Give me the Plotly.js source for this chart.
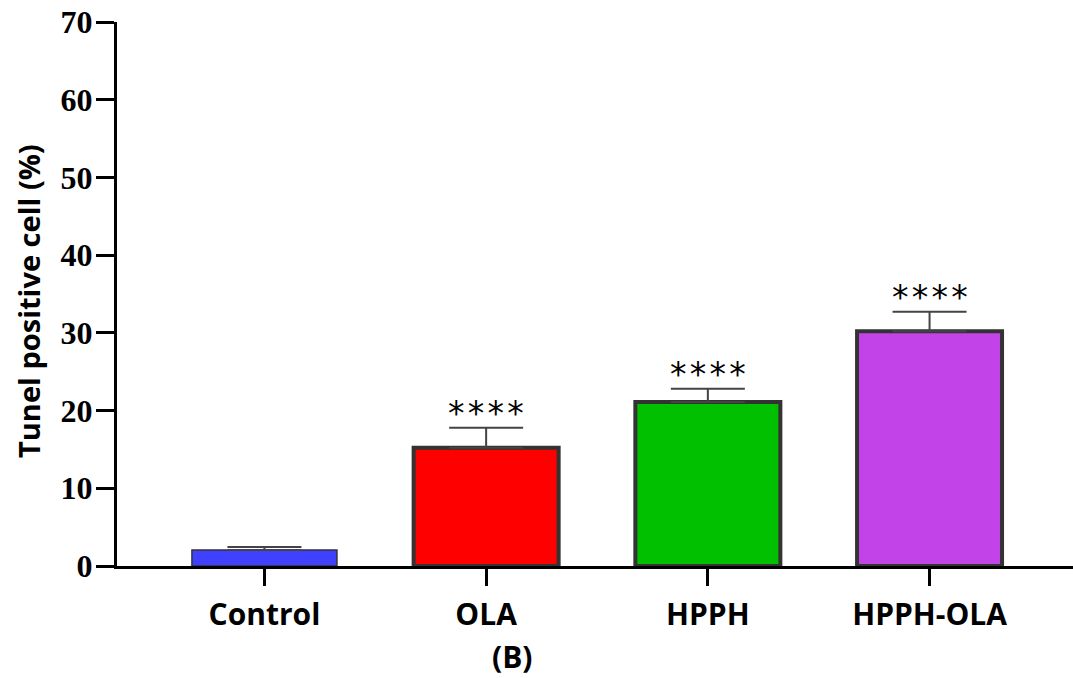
<!DOCTYPE html>
<html>
<head>
<meta charset="utf-8">
<script src="https://cdn.plot.ly/plotly-3.0.1.min.js"></script>
<style>
  html, body { margin: 0; padding: 0; background: #fff; }
  #chart { width: 1073px; height: 678px; }
</style>
</head>
<body>
<div id="chart"></div>
<script>
// TUNEL-positive cells per treatment group (mean with upper SD)
const groups = ['Control', 'OLA', 'HPPH', 'HPPH-OLA'];
const meanPct = [2.05, 15.2, 21.1, 30.2];
const sdPct = [0.4, 2.6, 1.7, 2.5];
const significance = ['', '*\u200A*\u200A*\u200A*', '*\u200A*\u200A*\u200A*', '*\u200A*\u200A*\u200A*'];
const barColors = ['#4040ff', '#ff0000', '#00c000', '#c244e8'];
const outlineWidths = [1.5, 4, 4, 4];
const yTicks = [0, 10, 20, 30, 40, 50, 60, 70];

const W = 1073, H = 678;
const margin = { l: 117, r: 0, t: 22, b: 112 };
const plotW = W - margin.l - margin.r;
const plotH = H - margin.t - margin.b;
const px2x = p => (p - margin.l) / plotW;
const py2y = p => (H - margin.b - p) / plotH;

const bars = {
  type: 'bar',
  x: groups,
  y: meanPct,
  marker: {
    color: barColors,
    line: { color: '#333333', width: outlineWidths }
  },
  error_y: {
    type: 'data',
    symmetric: false,
    array: sdPct,
    arrayminus: sdPct.map(() => 0),
    color: '#444444',
    thickness: 2,
    width: 37
  },
  hoverinfo: 'x+y'
};

const starNotes = groups.map((g, i) => ({
  x: g,
  y: meanPct[i] + sdPct[i],
  xref: 'x',
  yref: 'y',
  text: significance[i],
  showarrow: false,
  yanchor: 'bottom',
  yshift: -7,
  font: { family: 'DejaVu Sans, sans-serif', size: 33, color: '#000' }
})).filter(a => a.text);

const layout = {
  width: W,
  height: H,
  margin: margin,
  paper_bgcolor: '#ffffff',
  plot_bgcolor: '#ffffff',
  showlegend: false,
  bargap: 0.346,
  xaxis: {
    type: 'category',
    range: [-0.665, 3.647],
    showline: true,
    linecolor: '#000',
    linewidth: 3,
    ticks: 'outside',
    ticklen: 17,
    tickwidth: 3,
    tickcolor: '#000',
    showgrid: false,
    zeroline: false,
    ticklabelstandoff: 3,
    tickfont: { family: 'Open Sans, Noto Sans, sans-serif', size: 30, color: '#000', weight: 'bold' }
  },
  yaxis: {
    range: [0, 70],
    tickvals: yTicks,
    ticktext: yTicks.map(String),
    showline: true,
    linecolor: '#000',
    linewidth: 3,
    ticks: 'outside',
    ticklen: 18,
    tickwidth: 3,
    tickcolor: '#000',
    showgrid: false,
    zeroline: false,
    ticklabelstandoff: -3,
    tickfont: { family: 'Liberation Serif, Times New Roman, serif', size: 32, color: '#000', weight: 'bold' }
  },
  annotations: [
    {
      text: 'Tunel positive cell (%)',
      xref: 'paper', yref: 'paper',
      x: px2x(28), y: py2y(301),
      textangle: -90,
      showarrow: false,
      xanchor: 'center', yanchor: 'middle',
      font: { family: 'Open Sans, Noto Sans, sans-serif', size: 29, color: '#000', weight: 'bold' }
    },
    {
      text: '(B)',
      xref: 'paper', yref: 'paper',
      x: px2x(512), y: py2y(656),
      showarrow: false,
      borderpad: 0,
      xanchor: 'center', yanchor: 'middle',
      font: { family: 'Open Sans, Noto Sans, sans-serif', size: 30, color: '#000', weight: 'bold' }
    }
  ].concat(starNotes)
};

Plotly.newPlot('chart', [bars], layout, { displayModeBar: false, staticPlot: true });
</script>
</body>
</html>
